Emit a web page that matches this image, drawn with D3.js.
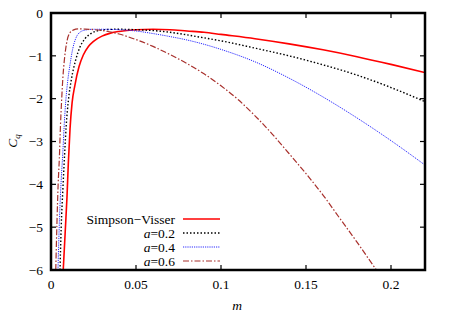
<!DOCTYPE html>
<html>
<head>
<meta charset="utf-8">
<script src="https://cdn.jsdelivr.net/npm/d3@7"></script>
<style>
  body { margin: 0; background: #fff; }
  svg text { font-family: "Liberation Serif", "DejaVu Serif"; }
</style>
</head>
<body>
<script>
// values
const seriesNames = ["Simpson\u2212Visser", "a=0.2", "a=0.4", "a=0.6"];

const svM = [0.0072, 0.0085, 0.0094, 0.0102, 0.0112, 0.0124, 0.014, 0.0165, 0.019, 0.022, 0.025, 0.03, 0.035, 0.04, 0.05, 0.06, 0.07, 0.08, 0.09, 0.1, 0.12, 0.14, 0.16, 0.18, 0.2, 0.22];
const svC = [-6, -5.0, -4.3, -3.5, -2.7, -2.1, -1.7, -1.25, -0.98, -0.78, -0.66, -0.54, -0.47, -0.43, -0.39, -0.38, -0.39, -0.42, -0.45, -0.5, -0.6, -0.72, -0.86, -1.02, -1.2, -1.39];

const a2M = [0.0053, 0.006, 0.007, 0.008, 0.009, 0.0102, 0.012, 0.0145, 0.017, 0.02, 0.0235, 0.028, 0.033, 0.04, 0.05, 0.06, 0.07, 0.08, 0.09, 0.1, 0.12, 0.14, 0.16, 0.18, 0.2, 0.22];
const a2C = [-6, -5.0, -4.1, -3.3, -2.6, -2.05, -1.55, -1.1, -0.8, -0.6, -0.48, -0.41, -0.385, -0.38, -0.39, -0.41, -0.45, -0.51, -0.58, -0.65, -0.82, -1.0, -1.21, -1.45, -1.74, -2.07];

const a4M = [0.0041, 0.005, 0.006, 0.0069, 0.0078, 0.0087, 0.0098, 0.0112, 0.0127, 0.0145, 0.017, 0.02, 0.025, 0.03, 0.04, 0.05, 0.06, 0.07, 0.08, 0.09, 0.1, 0.12, 0.14, 0.16, 0.18, 0.2, 0.22];
const a4C = [-6, -4.8, -3.9, -3.3, -2.6, -2.05, -1.6, -1.2, -0.85, -0.6, -0.45, -0.4, -0.38, -0.38, -0.39, -0.42, -0.48, -0.55, -0.63, -0.73, -0.85, -1.14, -1.52, -1.96, -2.45, -2.98, -3.55];

const a6M = [0.0028, 0.0035, 0.0042, 0.0049, 0.0056, 0.0063, 0.007, 0.0078, 0.0086, 0.0096, 0.011, 0.013, 0.016, 0.02, 0.03, 0.04, 0.05, 0.06, 0.07, 0.08, 0.09, 0.1, 0.11, 0.12, 0.13, 0.14, 0.15, 0.16, 0.17, 0.18, 0.19, 0.195];
const a6C = [-6, -4.9, -4.0, -3.4, -2.6, -2.0, -1.5, -1.12, -0.85, -0.62, -0.47, -0.4, -0.37, -0.375, -0.41, -0.49, -0.62, -0.78, -0.97, -1.18, -1.42, -1.7, -2.02, -2.4, -2.82, -3.28, -3.75, -4.25, -4.8, -5.35, -5.92, -6.2];

const xTicks = [0, 0.05, 0.1, 0.15, 0.2];
const yTicks = [0, -1, -2, -3, -4, -5, -6];

const styles = [
  { color: "#ff0000", width: 1.6, dash: null },
  { color: "#000000", width: 1.4, dash: "1.5,2" },
  { color: "#2b2bff", width: 1.0, dash: "1.2,1" },
  { color: "#a8302c", width: 1.2, dash: "6,2,1.5,2" }
];

const W = 450, H = 315;
const pLeft = 51, pRight = 425, pTop = 13, pBottom = 270;

const x = d3.scaleLinear().domain([0, 0.22]).range([pLeft, pRight]);
const y = d3.scaleLinear().domain([-6, 0]).range([pBottom, pTop]);

const svg = d3.select("body").append("svg")
  .attr("width", W)
  .attr("height", H);

svg.append("defs").append("clipPath").attr("id", "plot")
  .append("rect")
  .attr("x", pLeft).attr("y", pTop)
  .attr("width", pRight - pLeft).attr("height", pBottom - pTop);

const series = [
  d3.zip(svM, svC),
  d3.zip(a2M, a2C),
  d3.zip(a4M, a4C),
  d3.zip(a6M, a6C)
];

const line = d3.line()
  .x(d => x(d[0]))
  .y(d => y(d[1]))
  .curve(d3.curveMonotoneX);

const g = svg.append("g").attr("clip-path", "url(#plot)");
series.forEach((pts, i) => {
  g.append("path")
    .attr("d", line(pts))
    .attr("fill", "none")
    .attr("stroke", styles[i].color)
    .attr("stroke-width", styles[i].width)
    .attr("stroke-dasharray", styles[i].dash);
});

// ticks on all four sides, pointing inwards
const tickLen = 5;
xTicks.forEach(t => {
  svg.append("line").attr("x1", x(t)).attr("x2", x(t))
    .attr("y1", pBottom).attr("y2", pBottom - tickLen)
    .attr("stroke", "#000").attr("stroke-width", 1.2);
  svg.append("line").attr("x1", x(t)).attr("x2", x(t))
    .attr("y1", pTop).attr("y2", pTop + tickLen)
    .attr("stroke", "#000").attr("stroke-width", 1.2);
  svg.append("text")
    .attr("x", x(t)).attr("y", pBottom + 19)
    .attr("text-anchor", "middle")
    .attr("font-size", 13.5)
    .text(t === 0 ? "0" : d3.format("")(t));
});
yTicks.forEach(t => {
  svg.append("line").attr("x1", pLeft).attr("x2", pLeft + tickLen)
    .attr("y1", y(t)).attr("y2", y(t))
    .attr("stroke", "#000").attr("stroke-width", 1.2);
  svg.append("line").attr("x1", pRight).attr("x2", pRight - tickLen)
    .attr("y1", y(t)).attr("y2", y(t))
    .attr("stroke", "#000").attr("stroke-width", 1.2);
  svg.append("text")
    .attr("x", pLeft - 8).attr("y", y(t))
    .attr("dy", "0.35em")
    .attr("text-anchor", "end")
    .attr("font-size", 13.5)
    .text(t === 0 ? "0" : "\u2212" + Math.abs(t));
});

svg.append("rect")
  .attr("x", pLeft).attr("y", pTop)
  .attr("width", pRight - pLeft).attr("height", pBottom - pTop)
  .attr("fill", "none")
  .attr("stroke", "#000")
  .attr("stroke-width", 2.5);

// axis titles
svg.append("text")
  .attr("x", 237).attr("y", 310)
  .attr("text-anchor", "middle")
  .attr("font-size", 13.5)
  .attr("font-style", "italic")
  .text("m");

const yl = svg.append("text")
  .attr("transform", "translate(17,141) rotate(-90)")
  .attr("text-anchor", "middle")
  .attr("font-size", 13.5)
  .attr("font-style", "italic");
yl.append("tspan").text("C");
yl.append("tspan").attr("font-size", 9).attr("dy", 3).text("q");

// legend
const legY = [219, 233, 247, 261];
seriesNames.forEach((name, i) => {
  const t = svg.append("text")
    .attr("x", 175).attr("y", legY[i])
    .attr("dy", "0.35em")
    .attr("text-anchor", "end")
    .attr("font-size", 13.5);
  if (i === 0) {
    t.text(name);
  } else {
    const parts = name.split("=");
    t.append("tspan").attr("font-style", "italic").text(parts[0]);
    t.append("tspan").text("=" + parts[1]);
  }
  svg.append("line")
    .attr("x1", 183).attr("x2", 220)
    .attr("y1", legY[i]).attr("y2", legY[i])
    .attr("stroke", styles[i].color)
    .attr("stroke-width", styles[i].width)
    .attr("stroke-dasharray", styles[i].dash);
});
</script>
</body>
</html>
